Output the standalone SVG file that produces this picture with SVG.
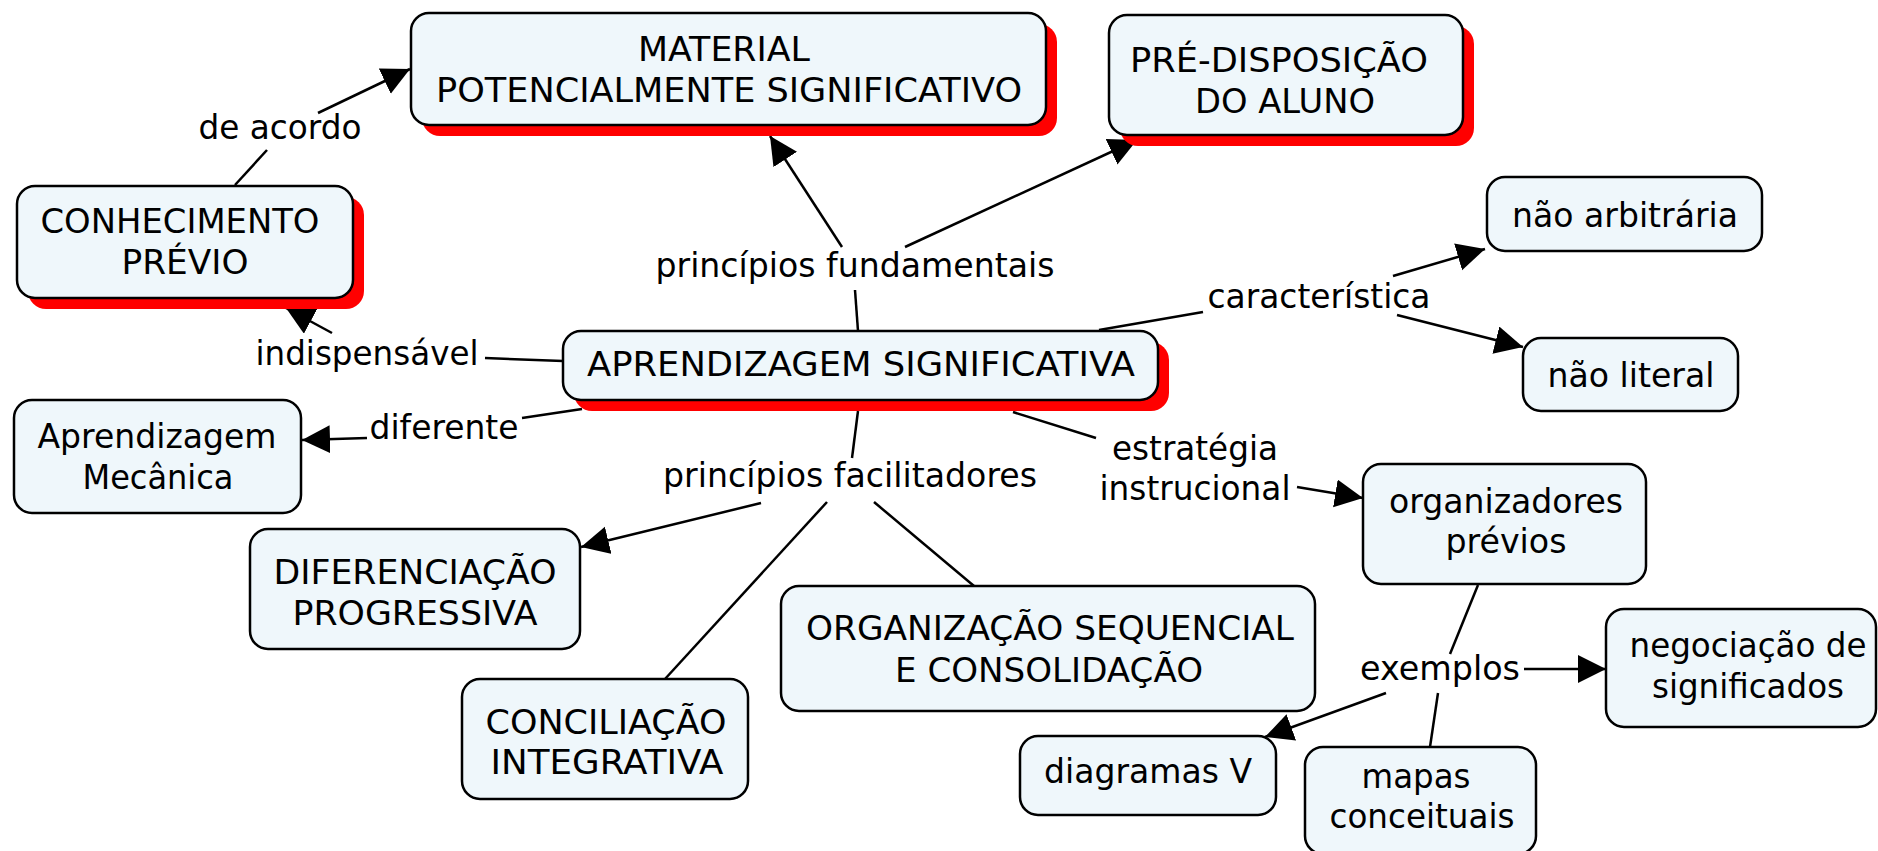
<svg xmlns="http://www.w3.org/2000/svg" width="1878" height="851" viewBox="0 0 1878 851">
  <style>
    .box { fill: #eff7fb; stroke: #000; stroke-width: 2.5; }
    .shadow { fill: #ff0000; }
    text { font-family: "DejaVu Sans", Verdana, sans-serif; font-size: 34px; fill: #000; text-anchor: middle; }
    #connectors line { stroke: #000; stroke-width: 2.5; fill: none; }
    #connectors line.arrow { marker-end: url(#ah); }
  </style>
  <defs>
    <marker id="ah" markerUnits="userSpaceOnUse" markerWidth="30" markerHeight="30" refX="28" refY="14" orient="auto">
      <path d="M0,0 L28,14 L0,28 z" fill="#000"/>
    </marker>
  </defs>
  <rect width="1878" height="851" fill="#fff"/>

  <!-- connectors -->
  <g id="connectors">
    <line x1="235" y1="185" x2="267" y2="150"/>
    <line class="arrow" x1="318" y1="113" x2="410" y2="69"/>
    <line x1="858" y1="331" x2="855" y2="290"/>
    <line class="arrow" x1="842" y1="247" x2="770" y2="136"/>
    <line class="arrow" x1="905" y1="247" x2="1137" y2="140"/>
    <line x1="1099" y1="330" x2="1203" y2="312"/>
    <line class="arrow" x1="1393" y1="276" x2="1485" y2="249"/>
    <line class="arrow" x1="1397" y1="315" x2="1523" y2="347"/>
    <line x1="485" y1="358" x2="563" y2="361"/>
    <line class="arrow" x1="332" y1="333" x2="286" y2="308"/>
    <line x1="582" y1="409" x2="522" y2="418"/>
    <line class="arrow" x1="367" y1="438" x2="302" y2="440"/>
    <line x1="858" y1="411" x2="852" y2="458"/>
    <line class="arrow" x1="761" y1="503" x2="581" y2="547"/>
    <line x1="827" y1="502" x2="665" y2="679"/>
    <line x1="874" y1="502" x2="974" y2="586"/>
    <line x1="1013" y1="412" x2="1096" y2="438"/>
    <line class="arrow" x1="1297" y1="487" x2="1363" y2="498"/>
    <line x1="1478" y1="585" x2="1450" y2="654"/>
    <line class="arrow" x1="1524" y1="669" x2="1606" y2="669"/>
    <line class="arrow" x1="1386" y1="693" x2="1265" y2="737"/>
    <line x1="1438" y1="693" x2="1430" y2="747"/>
  </g>

  <!-- linking phrases -->
  <g id="lbl-de-acordo"><text x="280" y="139" textLength="163" lengthAdjust="spacingAndGlyphs">de acordo</text></g>
  <g id="lbl-principios-fundamentais"><text x="855" y="277" textLength="399" lengthAdjust="spacingAndGlyphs">princípios fundamentais</text></g>
  <g id="lbl-caracteristica"><text x="1319" y="308" textLength="223" lengthAdjust="spacingAndGlyphs">característica</text></g>
  <g id="lbl-indispensavel"><text x="367" y="365" textLength="223" lengthAdjust="spacingAndGlyphs">indispensável</text></g>
  <g id="lbl-diferente"><text x="444" y="439" textLength="149" lengthAdjust="spacingAndGlyphs">diferente</text></g>
  <g id="lbl-principios-facilitadores"><text x="850" y="487" textLength="374" lengthAdjust="spacingAndGlyphs">princípios facilitadores</text></g>
  <g id="lbl-estrategia">
    <text x="1195" y="460" textLength="166" lengthAdjust="spacingAndGlyphs">estratégia</text>
    <text x="1195" y="500" textLength="191" lengthAdjust="spacingAndGlyphs">instrucional</text>
  </g>
  <g id="lbl-exemplos"><text x="1440" y="680" textLength="160" lengthAdjust="spacingAndGlyphs">exemplos</text></g>

  <!-- concepts -->
  <g id="material">
    <rect class="shadow" x="422" y="24" width="635" height="112" rx="18"/>
    <rect class="box" x="411" y="13" width="635" height="112" rx="18"/>
    <text x="724" y="61" textLength="172" lengthAdjust="spacingAndGlyphs">MATERIAL</text>
    <text x="729" y="102" textLength="586" lengthAdjust="spacingAndGlyphs">POTENCIALMENTE SIGNIFICATIVO</text>
  </g>
  <g id="predisposicao">
    <rect class="shadow" x="1120" y="26" width="354" height="120" rx="18"/>
    <rect class="box" x="1109" y="15" width="354" height="120" rx="18"/>
    <text x="1279" y="72" textLength="298" lengthAdjust="spacingAndGlyphs">PRÉ-DISPOSIÇÃO</text>
    <text x="1285" y="113" textLength="180" lengthAdjust="spacingAndGlyphs">DO ALUNO</text>
  </g>
  <g id="conhecimento">
    <rect class="shadow" x="28" y="197" width="336" height="112" rx="18"/>
    <rect class="box" x="17" y="186" width="336" height="112" rx="18"/>
    <text x="180" y="233" textLength="279" lengthAdjust="spacingAndGlyphs">CONHECIMENTO</text>
    <text x="185" y="274" textLength="127" lengthAdjust="spacingAndGlyphs">PRÉVIO</text>
  </g>
  <g id="aprendizagem-significativa">
    <rect class="shadow" x="574" y="342" width="595" height="69" rx="18"/>
    <rect class="box" x="563" y="331" width="595" height="69" rx="18"/>
    <text x="861" y="376" textLength="548" lengthAdjust="spacingAndGlyphs">APRENDIZAGEM SIGNIFICATIVA</text>
  </g>
  <g id="nao-arbitraria">
    <rect class="box" x="1487" y="177" width="275" height="74" rx="18"/>
    <text x="1625" y="227" textLength="226" lengthAdjust="spacingAndGlyphs">não arbitrária</text>
  </g>
  <g id="nao-literal">
    <rect class="box" x="1523" y="338" width="215" height="73" rx="18"/>
    <text x="1631" y="387" textLength="167" lengthAdjust="spacingAndGlyphs">não literal</text>
  </g>
  <g id="aprendizagem-mecanica">
    <rect class="box" x="14" y="400" width="287" height="113" rx="18"/>
    <text x="157" y="448" textLength="239" lengthAdjust="spacingAndGlyphs">Aprendizagem</text>
    <text x="158" y="489" textLength="151" lengthAdjust="spacingAndGlyphs">Mecânica</text>
  </g>
  <g id="diferenciacao">
    <rect class="box" x="250" y="529" width="330" height="120" rx="18"/>
    <text x="415" y="584" textLength="283" lengthAdjust="spacingAndGlyphs">DIFERENCIAÇÃO</text>
    <text x="415" y="625" textLength="245" lengthAdjust="spacingAndGlyphs">PROGRESSIVA</text>
  </g>
  <g id="conciliacao">
    <rect class="box" x="462" y="679" width="286" height="120" rx="18"/>
    <text x="606" y="734" textLength="241" lengthAdjust="spacingAndGlyphs">CONCILIAÇÃO</text>
    <text x="607" y="774" textLength="233" lengthAdjust="spacingAndGlyphs">INTEGRATIVA</text>
  </g>
  <g id="organizacao">
    <rect class="box" x="781" y="586" width="534" height="125" rx="18"/>
    <text x="1050" y="640" textLength="488" lengthAdjust="spacingAndGlyphs">ORGANIZAÇÃO SEQUENCIAL</text>
    <text x="1049" y="682" textLength="308" lengthAdjust="spacingAndGlyphs">E CONSOLIDAÇÃO</text>
  </g>
  <g id="diagramas-v">
    <rect class="box" x="1020" y="736" width="256" height="79" rx="18"/>
    <text x="1148" y="783" textLength="208" lengthAdjust="spacingAndGlyphs">diagramas V</text>
  </g>
  <g id="organizadores">
    <rect class="box" x="1363" y="464" width="283" height="120" rx="18"/>
    <text x="1506" y="513" textLength="234" lengthAdjust="spacingAndGlyphs">organizadores</text>
    <text x="1506" y="553" textLength="121" lengthAdjust="spacingAndGlyphs">prévios</text>
  </g>
  <g id="negociacao">
    <rect class="box" x="1606" y="609" width="270" height="118" rx="18"/>
    <text x="1748" y="657" textLength="237" lengthAdjust="spacingAndGlyphs">negociação de</text>
    <text x="1748" y="698" textLength="192" lengthAdjust="spacingAndGlyphs">significados</text>
  </g>
  <g id="mapas">
    <rect class="box" x="1305" y="747" width="231" height="107" rx="18"/>
    <text x="1416" y="788" textLength="109" lengthAdjust="spacingAndGlyphs">mapas</text>
    <text x="1422" y="828" textLength="185" lengthAdjust="spacingAndGlyphs">conceituais</text>
  </g>
</svg>
